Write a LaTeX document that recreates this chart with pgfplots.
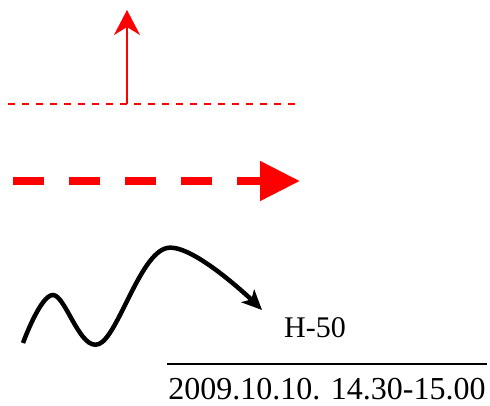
\documentclass[border=0pt]{standalone}
\usepackage{pgfplots}
\pgfplotsset{compat=1.18}
\usetikzlibrary{arrows.meta}
\usepackage{fontspec}
\setmainfont{Liberation Serif}
\begin{document}
\begin{tikzpicture}
\begin{axis}[width=490pt, height=405pt, scale only axis,
  xmin=0, xmax=490, ymin=0, ymax=405, y dir=reverse,
  hide axis, clip=false]
\addplot[draw=none] coordinates {(0,0) (490,405)};
% thin dashed red line
\addplot[red, line width=1.2pt, dash pattern=on 7pt off 7pt] coordinates {(8,104) (297,104)};
% vertical red arrow
\addplot[red, line width=1.8pt, -{Stealth[length=25pt, width=26pt, inset=8pt]}] coordinates {(127,104) (127,10)};
% thick dashed red arrow
\addplot[red, line width=8pt, dash pattern=on 31pt off 25pt, -{Triangle[length=40pt, width=38pt]}] coordinates {(13,181) (300,181)};
% black wavy arrow
\addplot[black, line width=4.5pt, smooth, tension=0.6, -{Stealth[length=20pt, width=18pt, inset=5pt]}] coordinates {
(23,343) (53,295) (99,344) (167,248) (262,310)};
% black line
\addplot[black, line width=1.5pt] coordinates {(167,364) (487,364)};
\node[font=\fontsize{30}{36}\selectfont, inner sep=0pt, anchor=base] at (axis cs:315,337) {H-50};
\node[font=\fontsize{32}{38}\selectfont, inner sep=0pt, anchor=base] at (axis cs:327,399) {2009.10.10. 14.30-15.00};
\end{axis}
\end{tikzpicture}
\end{document}
